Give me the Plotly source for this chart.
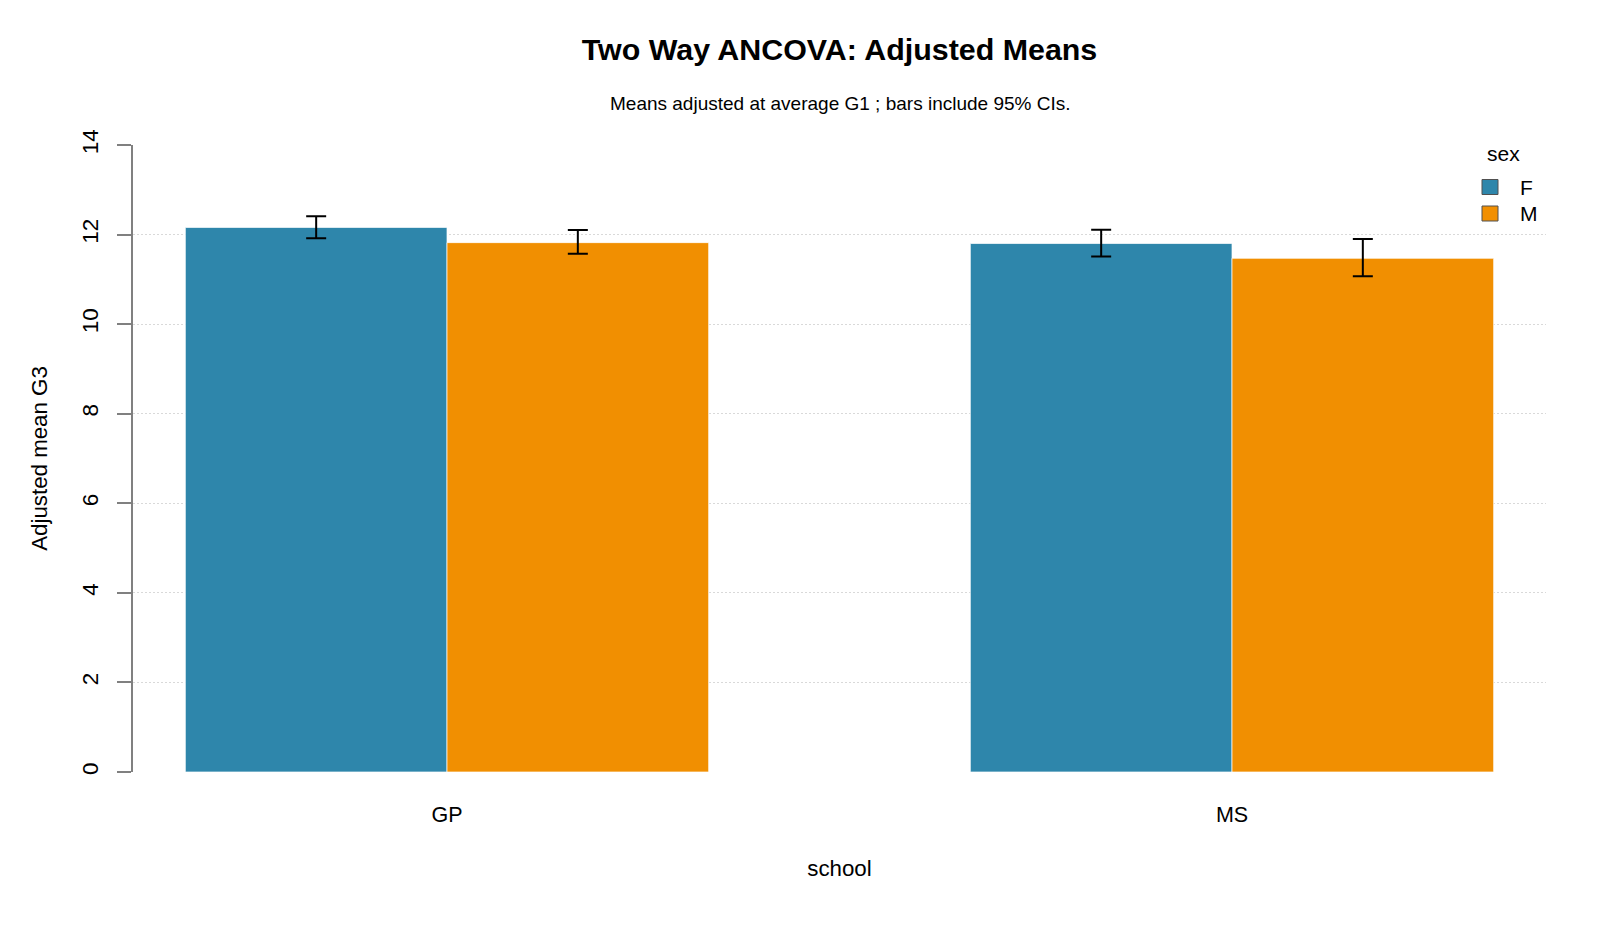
import plotly.graph_objects as go

schools = ["GP", "MS"]
sexes = ["F", "M"]
colors = {"F": "#2E86AB", "M": "#F18F01"}

means = {"F": [12.16, 11.80], "M": [11.82, 11.47]}
upper = {"F": [12.41, 12.11], "M": [12.10, 11.90]}
lower = {"F": [11.92, 11.51], "M": [11.57, 11.07]}

y_ticks = [0, 2, 4, 6, 8, 10, 12, 14]

FONT = "Liberation Sans, Arial, sans-serif"

# plot area in pixels
L, R, T, B = 133, 1546, 145, 772
W, H = 1600, 933


def px_x(px):
    return (px - L) / (R - L)


def px_y(py):
    return (B - py) / (B - T)


fig = go.Figure()
for s in sexes:
    fig.add_trace(go.Bar(
        x=schools,
        y=means[s],
        name=s,
        marker=dict(color=colors[s], line=dict(color="rgba(255,255,255,0.7)", width=1)),
        error_y=dict(
            type="data",
            symmetric=False,
            array=[u - m for u, m in zip(upper[s], means[s])],
            arrayminus=[m - l for m, l in zip(means[s], lower[s])],
            color="black",
            thickness=2,
            width=10,
        ),
    ))

fig.update_layout(
    barmode="group",
    bargap=1/3,
    bargroupgap=0,
    width=W,
    height=H,
    paper_bgcolor="white",
    plot_bgcolor="white",
    font=dict(family=FONT, color="black", size=21),
    margin=dict(l=L, r=W - R, t=T, b=H - B),
    title=dict(
        text="<b>Two Way ANCOVA: Adjusted Means</b>",
        x=0.5 * (L + R) / W,
        xanchor="center",
        y=1 - 49 / H,
        yanchor="middle",
        font=dict(size=30.4, family=FONT, color="black"),
    ),
    showlegend=False,
)

fig.add_annotation(
    text="Means adjusted at average G1 ; bars include 95% CIs.",
    xref="paper", yref="paper",
    x=0.5, y=px_y(103),
    xanchor="center", yanchor="middle",
    showarrow=False,
    font=dict(size=19, family=FONT, color="black"),
)

# legend drawn manually (R base-graphics style)
fig.add_annotation(
    text="sex", xref="paper", yref="paper",
    x=px_x(1503), y=px_y(153), xanchor="center", yanchor="middle",
    showarrow=False, font=dict(size=21, family=FONT, color="black"),
)
legend_rows = [187, 213.5]
for s, cy in zip(sexes, legend_rows):
    fig.add_shape(
        type="rect", xref="paper", yref="paper",
        x0=px_x(1482), x1=px_x(1498), y0=px_y(cy - 7.5), y1=px_y(cy + 7.5),
        fillcolor=colors[s], line=dict(color="#505050", width=1),
    )
    fig.add_annotation(
        text=s, xref="paper", yref="paper",
        x=px_x(1518), y=px_y(cy), xanchor="left", yanchor="middle",
        showarrow=False, font=dict(size=21, family=FONT, color="black"),
    )

fig.update_xaxes(
    range=[-0.4, 1.4],
    showline=False,
    showgrid=False,
    zeroline=False,
    ticks="outside",
    ticklen=23,
    tickcolor="rgba(0,0,0,0)",
    tickfont=dict(size=21.5),
    title=dict(text="school", standoff=34, font=dict(size=22.3)),
)

fig.update_yaxes(
    range=[0, 14],
    tickvals=y_ticks,
    ticktext=[str(v) for v in y_ticks],
    showline=True,
    linecolor="#808080",
    linewidth=1.5,
    ticks="outside",
    ticklen=14,
    tickcolor="#808080",
    tickwidth=1.5,
    tickangle=-90,
    ticklabelstandoff=10,
    tickfont=dict(size=22.5),
    showgrid=True,
    gridcolor="#D9D9D9",
    griddash="2px,2px",
    gridwidth=1,
    zeroline=False,
    title=dict(text="Adjusted mean G3", standoff=24, font=dict(size=22.3)),
)

fig.write_html("out.html")
